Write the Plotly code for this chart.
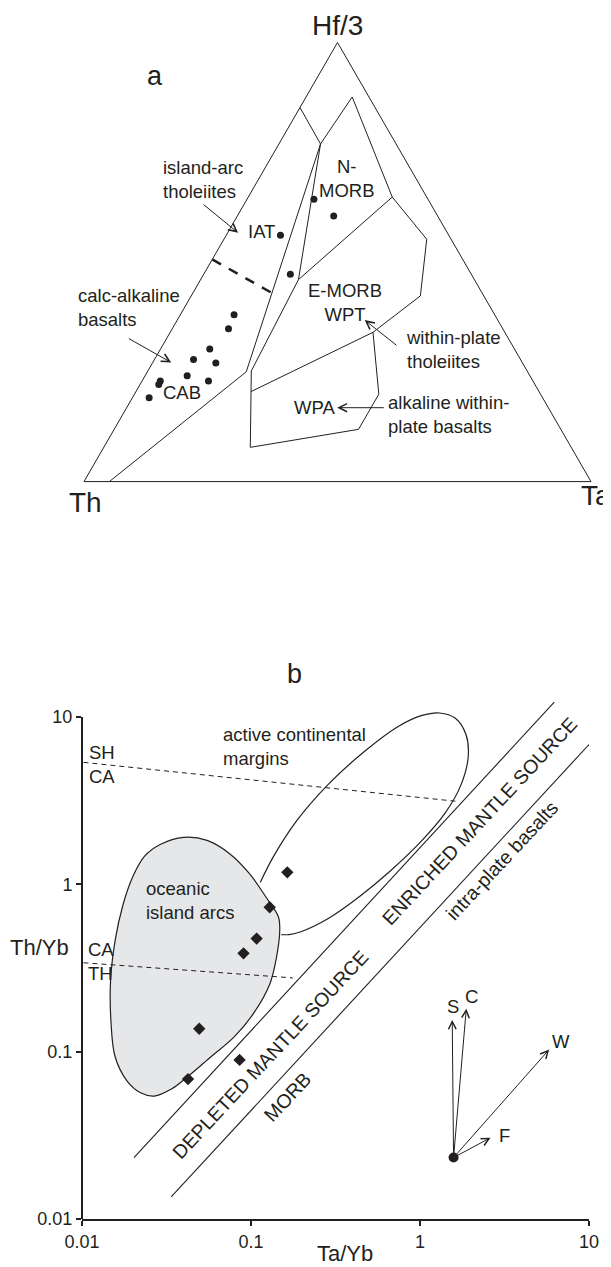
import math
import plotly.graph_objects as go

W, H = 611, 1267
OX, OY = 8.0, 8.0          # the page body margin offsets the figure by 8 px
INK = "#231f20"
SANS = "Liberation Sans, Arial, Helvetica, sans-serif"

# ================= Panel a : Th - Hf/3 - Ta ternary (fractions) =================
apex_title, left_title, right_title = "Hf/3", "Th", "Ta"

sample_hf = [0.643, 0.605, 0.561, 0.472, 0.380, 0.348, 0.302, 0.278, 0.270, 0.241, 0.229, 0.229, 0.221, 0.191]
sample_th = [0.225, 0.205, 0.332, 0.357, 0.514, 0.541, 0.601, 0.645, 0.605, 0.676, 0.640, 0.735, 0.742, 0.776]
sample_ta = [0.132, 0.190, 0.107, 0.171, 0.106, 0.111, 0.097, 0.077, 0.125, 0.083, 0.131, 0.036, 0.037, 0.033]

# volcanic-arc field boundary
arc_hf = [0.000, 0.250, 0.769]
arc_th = [0.950, 0.555, 0.149]
arc_ta = [0.050, 0.195, 0.082]

# E-MORB / N-MORB left boundary
emorb_hf = [0.078, 0.252, 0.460, 0.769]
emorb_th = [0.633, 0.544, 0.347, 0.149]
emorb_ta = [0.289, 0.204, 0.193, 0.082]

# outer MORB / WPT boundary
outer_hf = [0.852, 0.769, 0.876, 0.648, 0.552, 0.423, 0.340, 0.205]
outer_th = [0.148, 0.149, 0.033, 0.068, 0.048, 0.125, 0.260, 0.568]
outer_ta = [0.000, 0.082, 0.091, 0.284, 0.400, 0.452, 0.400, 0.227]

# N-MORB / E-MORB divide
nmorb_hf = [0.460, 0.648]
nmorb_th = [0.347, 0.068]
nmorb_ta = [0.193, 0.284]

# alkaline within-plate field
wpa_hf = [0.340, 0.199, 0.119, 0.078]
wpa_th = [0.260, 0.319, 0.399, 0.633]
wpa_ta = [0.400, 0.482, 0.482, 0.289]

# IAT / CAB divide (dashed)
iatcab_hf = [0.506, 0.430]
iatcab_th = [0.494, 0.415]
iatcab_ta = [0.000, 0.155]

# ================= Panel b : Th/Yb vs Ta/Yb =================
tick_vals = [0.01, 0.1, 1, 10]
tick_text = ["0.01", "0.1", "1", "10"]

sample_ta_yb = [0.164, 0.129, 0.108, 0.0903, 0.0494, 0.0856, 0.0424]
sample_th_yb = [1.18, 0.73, 0.474, 0.387, 0.137, 0.0893, 0.0686]

oia_x = [0.0268, 0.0340, 0.0421, 0.058, 0.0798, 0.1042, 0.1289, 0.1418, 0.148, 0.145, 0.122, 0.0988,
         0.0757, 0.0550, 0.0399, 0.0290, 0.0234, 0.0200, 0.0175, 0.0157, 0.01476, 0.01483, 0.0157, 0.01845, 0.0222]
oia_y = [0.0543, 0.060, 0.0708, 0.0933, 0.1229, 0.171, 0.252, 0.370, 0.544, 0.643, 0.846, 1.146,
         1.51, 1.83, 1.91, 1.73, 1.47, 1.115, 0.758, 0.461, 0.266, 0.153, 0.0933, 0.067, 0.0568]

acm_x = [0.1134, 0.136, 0.187, 0.2866, 0.463, 0.7475, 1.029, 1.308, 1.618, 1.869, 1.930, 1.753, 1.417,
         1.029, 0.672, 0.439, 0.2866, 0.1974, 0.1683, 0.1512]
acm_y = [1.026, 1.469, 2.41, 3.96, 6.16, 8.81, 10.22, 10.57, 9.83, 7.89, 5.83, 3.96, 2.69,
         1.83, 1.21, 0.846, 0.625, 0.521, 0.501, 0.501]

array_upper_x = [0.0203, 6.23]
array_upper_y = [0.0233, 12.27]
array_lower_x = [0.0337, 10.0]
array_lower_y = [0.01355, 6.85]

sh_ca_x = [0.0102, 1.62]
sh_ca_y = [5.36, 3.14]
ca_th_x = [0.0102, 0.177]
ca_th_y = [0.340, 0.276]

vec_origin_x = [1.58]
vec_origin_y = [0.0233]
vec_names = ["S", "C", "W", "F"]
vec_x = [1.551, 1.879, 5.81, 2.614]
vec_y = [0.1549, 0.1807, 0.103, 0.0306]

# ---------------------------------------------------------------------------
fig = go.Figure()


def tern_line(hf, th, ta, width=1.0, dash=None):
    return go.Scatterternary(a=hf, b=th, c=ta, mode="lines",
                             line=dict(color=INK, width=width, dash=dash),
                             hoverinfo="skip", showlegend=False)


fig.add_trace(tern_line(arc_hf, arc_th, arc_ta))
fig.add_trace(tern_line(emorb_hf, emorb_th, emorb_ta))
fig.add_trace(tern_line(outer_hf, outer_th, outer_ta))
fig.add_trace(tern_line(nmorb_hf, nmorb_th, nmorb_ta))
fig.add_trace(tern_line(wpa_hf, wpa_th, wpa_ta))
fig.add_trace(tern_line(iatcab_hf, iatcab_th, iatcab_ta, width=2.5, dash="10px,9px"))
fig.add_trace(go.Scatterternary(a=sample_hf, b=sample_th, c=sample_ta, mode="markers",
                                marker=dict(color=INK, size=7), hoverinfo="skip", showlegend=False))

# panel b traces
fig.add_trace(go.Scatter(x=oia_x + oia_x[:1], y=oia_y + oia_y[:1], mode="lines", fill="toself",
                         fillcolor="#e6e7e9", line=dict(color=INK, width=1.2, shape="spline", smoothing=1),
                         hoverinfo="skip", showlegend=False))
fig.add_trace(go.Scatter(x=acm_x, y=acm_y, mode="lines",
                         line=dict(color=INK, width=1.2, shape="spline", smoothing=1),
                         hoverinfo="skip", showlegend=False))
for xs, ys in [(array_upper_x, array_upper_y), (array_lower_x, array_lower_y)]:
    fig.add_trace(go.Scatter(x=xs, y=ys, mode="lines", line=dict(color=INK, width=1.1),
                             hoverinfo="skip", showlegend=False))
for xs, ys in [(sh_ca_x, sh_ca_y), (ca_th_x, ca_th_y)]:
    fig.add_trace(go.Scatter(x=xs, y=ys, mode="lines", line=dict(color=INK, width=1, dash="5px,4px"),
                             hoverinfo="skip", showlegend=False))
fig.add_trace(go.Scatter(x=sample_ta_yb, y=sample_th_yb, mode="markers",
                         marker=dict(symbol="diamond", size=9.5, color=INK),
                         hoverinfo="skip", showlegend=False))
fig.add_trace(go.Scatter(x=vec_origin_x, y=vec_origin_y, mode="markers",
                         marker=dict(symbol="circle", size=10, color=INK),
                         hoverinfo="skip", showlegend=False))

# ---------------------------------------------------------------------------
# layout positions are given in page pixels and converted to paper fractions
def PX(x):
    return (x - OX) / W


def PY(y):
    return 1 - (y - OY) / H


TX0, TX1, TY_TOP, TY_BASE = 84.0, 591.0, 42.5, 481.6


def pa(x, y):
    """map a position measured on the reference panel a to this figure's triangle"""
    hf = (483.0 - y) / 445.0
    u = (x - 86.0) / 503.0
    return TX0 + (TX1 - TX0) * (u + 0.001 * hf), TY_BASE - (TY_BASE - TY_TOP) * hf


annotations = []


def label(text, x, y, size=18.5, family=SANS, xanchor="center", angle=0, align="center"):
    annotations.append(dict(text=text, x=PX(x), y=PY(y), xref="paper", yref="paper",
                            xanchor=xanchor, yanchor="middle", showarrow=False, textangle=angle,
                            align=align, font=dict(family=family, size=size, color=INK)))


def pointer(hx, hy, tx, ty):
    annotations.append(dict(text="", x=PX(hx), y=PY(hy), xref="paper", yref="paper",
                            ax=tx - hx, ay=ty - hy, showarrow=True, arrowhead=5, arrowsize=1.6,
                            arrowwidth=1, arrowcolor=INK, standoff=0))


# panel a labels
label("a", *pa(156, 72), size=27)
label(apex_title, *pa(337, 21), size=28)
label(left_title, *pa(88, 504), size=28)
label(right_title, *pa(577, 497), size=28, xanchor="left")
label("island-arc<br>tholeiites", *pa(162, 177), xanchor="left", align="left")
label("IAT", *pa(262, 229.5))
label("N-<br>MORB", *pa(347, 175.5))
label("E-MORB<br>WPT", *pa(345, 302))
label("within-plate<br>tholeiites", *pa(403, 349), xanchor="left", align="left")
label("calc-alkaline<br>basalts", *pa(78, 306.5), xanchor="left", align="left")
label("CAB", *pa(183, 392.5))
label("WPA", *pa(315, 407.5))
label("alkaline within-<br>plate basalts", *pa(386, 414.5), xanchor="left", align="left")

pointer(*pa(238.6, 230.8), *pa(202.8, 201.0))
pointer(*pa(172.4, 362.3), *pa(128.8, 337.2))
pointer(*pa(364.3, 319.3), *pa(397.4, 346.1))
pointer(*pa(337.1, 408.1), *pa(384.8, 408.1))

# panel b labels
label("b", 294, 674, size=27)
label("Th/Yb", 39, 947, size=22)
label("Ta/Yb", 345, 1253, size=22)
label("active continental<br>margins", 221, 746.5, xanchor="left", align="left")
label("oceanic<br>island arcs", 144, 900, xanchor="left", align="left")
label("SH<br>CA", 87, 764, xanchor="left", align="left")
label("CA<br>TH", 86, 961.5, xanchor="left", align="left")
label("ENRICHED MANTLE SOURCE", 479.6, 821.2, size=19.5, angle=-47)
label("DEPLETED MANTLE SOURCE", 269.6, 1054.7, size=19.5, angle=-47)
label("MORB", 287.2, 1096.8, size=19.5, angle=-47)
label("intra-plate basalts", 502.3, 860.4, size=19.5, angle=-47)
for nm, lx, ly in zip(vec_names, [453.4, 471.4, 560.9, 504.2], [1006.7, 996.6, 1041.5, 1135.7]):
    label(nm, lx, ly)

for vx, vy in zip(vec_x, vec_y):
    annotations.append(dict(text="", x=math.log10(vx), y=math.log10(vy),
                            ax=math.log10(vec_origin_x[0]), ay=math.log10(vec_origin_y[0]),
                            xref="x", yref="y", axref="x", ayref="y", showarrow=True,
                            arrowhead=5, arrowsize=1.5, arrowwidth=1, arrowcolor=INK, standoff=0))

tern_axis = dict(title=dict(text=""), showticklabels=False, ticks="", showgrid=False,
                 showline=True, linecolor=INK, linewidth=1)

fig.update_layout(
    width=W, height=H, margin=dict(l=0, r=0, t=0, b=0, pad=0, autoexpand=False),
    paper_bgcolor="white", plot_bgcolor="white", showlegend=False,
    ternary=dict(domain=dict(x=[PX(TX0), PX(TX1)], y=[PY(TY_BASE), PY(TY_TOP)]),
                 sum=1, bgcolor="rgba(0,0,0,0)",
                 aaxis=tern_axis, baxis=tern_axis, caxis=tern_axis),
    xaxis=dict(type="log", range=[-2, 1], domain=[PX(82), PX(589)], anchor="y", automargin=False,
               showline=True, linecolor=INK, linewidth=2, ticks="outside", ticklen=5, tickwidth=1.5,
               tickcolor=INK, tickvals=tick_vals, ticktext=tick_text, showgrid=False, zeroline=False,
               tickfont=dict(family=SANS, size=18, color=INK)),
    yaxis=dict(type="log", range=[-2, 1.1], domain=[PY(1219), PY(700.3)], anchor="x",
               automargin=False, showline=False, ticks="outside", ticklen=5, tickwidth=1.5,
               tickcolor=INK, tickvals=tick_vals, ticktext=tick_text, showgrid=False, zeroline=False,
               tickfont=dict(family=SANS, size=18, color=INK)),
    shapes=[dict(type="line", xref="x domain", x0=0, x1=0, yref="y",
                 y0=min(tick_vals), y1=max(tick_vals), line=dict(color=INK, width=2))],
    annotations=annotations,
)

fig.write_html("out.html")
